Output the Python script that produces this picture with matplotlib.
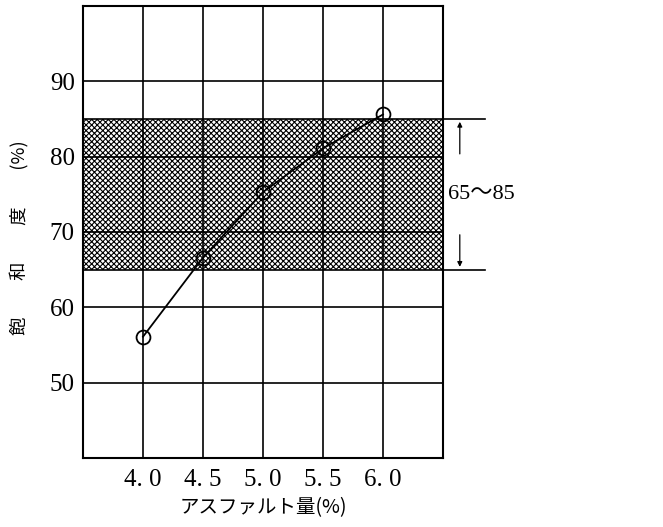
import matplotlib
matplotlib.use("Agg")
import matplotlib.pyplot as plt

asphalt = [4.0, 4.5, 5.0, 5.5, 6.0]
saturation = [56.1, 66.6, 75.3, 81.1, 85.6]
x_ticks = [4.0, 4.5, 5.0, 5.5, 6.0]
x_ticklabels = ["4. 0", "4. 5", "5. 0", "5. 5", "6. 0"]
y_ticks = [50, 60, 70, 80, 90]
y_ticklabels = ["50", "60", "70", "80", "90"]
band_low, band_high = 65, 85
band_label = "65〜85"
xlabel = "アスファルト量(%)"
ylabel = "飽　　和　　度　　(%)"

plt.rcParams['hatch.linewidth'] = 0.8
NUM_FONT = ['Liberation Serif', 'Noto Sans CJK JP']
JP_FONT = ['Noto Sans CJK JP', 'DejaVu Sans']

fig = plt.figure(figsize=(6.63, 5.27), dpi=100)
ax = fig.add_axes([83/663, 1-458/527, 360/663, 452/527])
ax.set_xlim(3.5, 6.5)
ax.set_ylim(40, 100)

# hatched band
ax.axhspan(band_low, band_high, facecolor='white', edgecolor='black',
           hatch='xxxxxx', linewidth=0, zorder=1)
ax.axhline(band_high, color='black', lw=1.2, zorder=2)
ax.axhline(band_low, color='black', lw=1.2, zorder=2)

# grid
for xv in x_ticks:
    ax.axvline(xv, color='black', lw=1.2, zorder=2)
for yv in y_ticks:
    ax.axhline(yv, color='black', lw=1.2, zorder=2)

ax.plot(asphalt, saturation, color='black', lw=1.3, marker='o', ms=10,
        mfc='none', mec='black', mew=1.3, zorder=3)

ax.set_xticks(x_ticks)
ax.set_xticklabels(x_ticklabels, fontfamily=NUM_FONT, fontsize=18)
ax.set_yticks(y_ticks)
ax.set_yticklabels(y_ticklabels, fontfamily=NUM_FONT, fontsize=18)
ax.tick_params(length=0)
ax.tick_params(axis='x', pad=8)
ax.tick_params(axis='y', pad=6)
for s in ax.spines.values():
    s.set_linewidth(1.5)

# range indicator outside axes
for yv in (band_low, band_high):
    ax.plot([6.5, 6.85], [yv, yv], color='black', lw=1.2, clip_on=False)
arrow_x = 6.64
ax.annotate('', xy=(arrow_x, band_high), xytext=(arrow_x, 80),
            arrowprops=dict(arrowstyle='-|>', color='black', lw=0.9,
                            mutation_scale=7), annotation_clip=False)
ax.annotate('', xy=(arrow_x, band_low), xytext=(arrow_x, 70),
            arrowprops=dict(arrowstyle='-|>', color='black', lw=0.9,
                            mutation_scale=7), annotation_clip=False)
ax.text(6.82, 75, band_label, ha='center', va='center', fontsize=16,
        fontfamily=NUM_FONT, clip_on=False)

ax.set_xlabel(xlabel, fontfamily=JP_FONT, fontsize=14, labelpad=4)
fig.text(20/663, 1-238/527, ylabel, rotation=90, ha='center', va='center',
         fontfamily=JP_FONT, fontsize=13.2)

fig.savefig('out.png', dpi=100)
